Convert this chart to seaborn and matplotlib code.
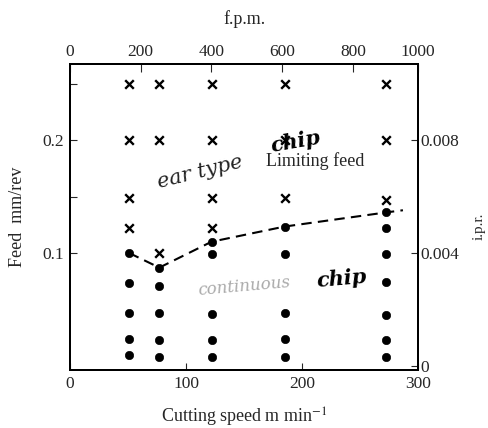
import matplotlib
matplotlib.use("Agg")
import matplotlib.pyplot as plt
import seaborn as sns
import pandas as pd

# ---- data ----
cross_speed = [51, 77, 122, 185, 272,
               51, 77, 122, 185, 272,
               51, 122, 185, 272,
               51, 122,
               77]
cross_feed = [0.25, 0.25, 0.25, 0.25, 0.25,
              0.2, 0.2, 0.2, 0.2, 0.2,
              0.149, 0.149, 0.149, 0.147,
              0.1225, 0.1225,
              0.1]

dot_speed = [51, 51, 51, 51, 51,
             77, 77, 77, 77, 77,
             122, 122, 122, 122, 122,
             185, 185, 185, 185, 185,
             272, 272, 272, 272, 272, 272, 272]
dot_feed = [0.1, 0.073, 0.047, 0.024, 0.009,
            0.087, 0.071, 0.047, 0.0225, 0.008,
            0.110, 0.0995, 0.046, 0.023, 0.008,
            0.1235, 0.0995, 0.047, 0.024, 0.008,
            0.136, 0.1225, 0.0995, 0.074, 0.045, 0.023, 0.008]

limit_speed = [51, 77, 122, 185, 272, 287]
limit_feed = [0.1, 0.087, 0.110, 0.1235, 0.136, 0.138]

bottom_ticks = [0, 100, 200, 300]
top_ticks = [0, 200, 400, 600, 800]
top_labels = ["0", "200", "400", "600", "800"]
left_ticks = [0.1, 0.2]
right_ticks = [0, 0.004, 0.008]
right_labels = ["0", "0.004", "0.008"]

FT_TO_M = 0.3048
IPR_SCALE = 25

sns.set_style("ticks")
plt.rcParams["font.family"] = ["Liberation Serif", "DejaVu Serif"]
plt.rcParams["mathtext.fontset"] = "stix"
plt.rcParams["axes.linewidth"] = 1.3

fig = plt.figure(figsize=(4.88, 4.28), dpi=100)
ax = fig.add_axes([0.1434, 0.1355, 0.7132, 0.715])

crosses = pd.DataFrame({"speed": cross_speed, "feed": cross_feed})
dots = pd.DataFrame({"speed": dot_speed, "feed": dot_feed})
limit = pd.DataFrame({"speed": limit_speed, "feed": limit_feed})

sns.lineplot(data=limit, x="speed", y="feed", sort=False, ax=ax, color="black",
             lw=1.5, linestyle=(0, (5, 3)), zorder=2)
sns.scatterplot(data=crosses, x="speed", y="feed", ax=ax, marker="x", s=38,
                color="black", linewidth=1.7, zorder=3)
sns.scatterplot(data=dots, x="speed", y="feed", ax=ax, marker="o", s=36,
                color="black", edgecolor="black", zorder=3)

TICK_FS = 12.5
LABEL_FS = 13

ax.set_xlim(0, 300)
ax.set_ylim(-0.004, 0.268)
ax.set_xticks(bottom_ticks)
ax.set_yticks(left_ticks)
ax.set_yticks([0.15, 0.25], minor=True)
ax.tick_params(axis="both", which="both", direction="in", labelsize=TICK_FS,
               length=5, width=0.8, pad=4)
ax.set_xlabel(r"Cutting speed m min$^{-1}$", fontsize=LABEL_FS, labelpad=10)
ax.set_ylabel("Feed  mm/rev", fontsize=LABEL_FS, labelpad=12)

# right axis: inches per revolution
axr = ax.twinx()
axr.set_ylim(ax.get_ylim()[0] / IPR_SCALE, ax.get_ylim()[1] / IPR_SCALE)
axr.set_yticks(right_ticks)
axr.set_yticklabels(right_labels)
axr.tick_params(axis="y", direction="in", labelsize=TICK_FS, length=5, width=0.8, pad=2)
axr.set_ylabel("i.p.r.", fontsize=11, rotation=90, va="center", ha="center")
axr.yaxis.set_label_coords(1.175, 0.47)

# top axis: feet per minute
axt = ax.twiny()
axt.set_xlim(0, 300 / FT_TO_M)
axt.set_xticks(top_ticks + [300 / FT_TO_M])
axt.set_xticklabels(top_labels + ["1000"])
axt.tick_params(axis="x", direction="in", labelsize=TICK_FS, length=6, width=0.8, pad=3)
axt.set_xlabel("f.p.m.", fontsize=LABEL_FS, labelpad=14)

for a in (ax, axr, axt):
    for sp in a.spines.values():
        sp.set_color("black")
        sp.set_linewidth(1.3)

ax.text(169, 0.182, "Limiting feed", fontsize=13, ha="left", va="center")
ax.text(112, 0.172, "ear type", fontsize=15, style="italic", rotation=14,
        ha="center", va="center", family=["DejaVu Serif"], color="#222222")
ax.text(194, 0.199, "chip", fontsize=15, style="italic", fontweight="bold",
        rotation=10, ha="center", va="center", family=["DejaVu Serif"], color="black")
ax.text(110, 0.070, "continuous", fontsize=12, style="italic", rotation=5,
        ha="left", va="center", family=["DejaVu Serif"], color="#aaaaaa")
ax.text(212, 0.077, "chip", fontsize=15, style="italic", fontweight="bold",
        rotation=5, ha="left", va="center", family=["DejaVu Serif"], color="black")

fig.savefig("out.png", dpi=100)
